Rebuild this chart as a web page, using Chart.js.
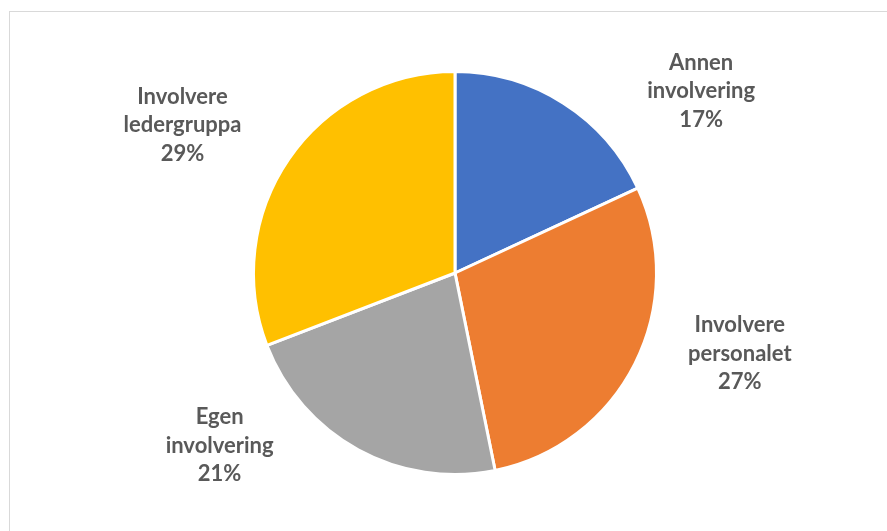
<!DOCTYPE html>
<html>
<head>
<meta charset="utf-8">
<script src="https://cdn.jsdelivr.net/npm/chart.js@4/dist/chart.umd.min.js"></script>
<style>
  html, body { margin: 0; padding: 0; background: #fff; overflow: hidden; }
  #wrap { position: relative; width: 887px; height: 531px; }
  #frame { position: absolute; left: 9px; top: 11px; width: 900px; height: 600px; border: 1px solid #d9d9d9; box-sizing: border-box; }
  #chart { position: absolute; left: 0; top: 0; }
</style>
</head>
<body>
<div id="wrap">
  <div id="frame"></div>
  <canvas id="chart" width="887" height="531"></canvas>
</div>
<script>
// categories (one per slice, clockwise from 12 o'clock) and their shares in %
const categories = [
  ['Annen', 'involvering'],
  ['Involvere', 'personalet'],
  ['Egen', 'involvering'],
  ['Involvere', 'ledergruppa']
];
const shares = [17, 27, 21, 29];
const sliceColors = ['#4472C4', '#ED7D31', '#A5A5A5', '#FFC000'];

// label placement relative to each slice: extra turn from the slice middle (deg) and distance in radii
const labelTurn = [21, -11, 25, -6];
const labelDist = [1.53, 1.48, 1.46, 1.55];

// draws the category name + value outside each slice
const outsideLabels = {
  id: 'outsideLabels',
  afterDatasetsDraw(chart) {
    const ctx = chart.ctx;
    const meta = chart.getDatasetMeta(0);
    ctx.save();
    ctx.font = 'bold 22px Lato, "Open Sans", sans-serif';
    ctx.fillStyle = '#595959';
    ctx.textAlign = 'center';
    ctx.textBaseline = 'middle';
    const lineH = 28.5;
    meta.data.forEach((arc, i) => {
      const p = arc.getProps(['x', 'y', 'startAngle', 'endAngle', 'outerRadius'], true);
      const mid = (p.startAngle + p.endAngle) / 2 + labelTurn[i] * Math.PI / 180;
      const r = 200 * labelDist[i];
      const cx = p.x + Math.cos(mid) * r;
      const cy = p.y + Math.sin(mid) * r;
      const lines = categories[i].concat([shares[i] + '%']);
      lines.forEach((txt, k) => {
        ctx.fillText(txt, cx, cy + (k - (lines.length - 1) / 2) * lineH);
      });
    });
    ctx.restore();
  }
};

const ctx = document.getElementById('chart').getContext('2d');
new Chart(ctx, {
  type: 'pie',
  data: {
    labels: categories.map(c => c.join(' ')),
    datasets: [{
      data: shares,
      backgroundColor: sliceColors,
      borderColor: '#ffffff',
      borderWidth: 3
    }]
  },
  options: {
    responsive: false,
    animation: false,
    layout: { padding: { top: 70, bottom: 55, left: 252, right: 229 } },
    plugins: {
      legend: { display: false },
      tooltip: { enabled: false }
    }
  },
  plugins: [outsideLabels]
});
</script>
</body>
</html>
